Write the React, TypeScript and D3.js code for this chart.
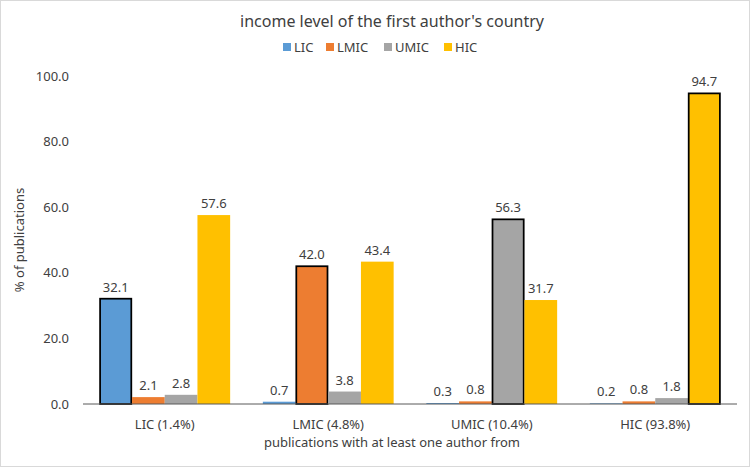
import React from "react";
import * as d3 from "d3";

const categories = ["LIC (1.4%)", "LMIC (4.8%)", "UMIC (10.4%)", "HIC (93.8%)"];
const seriesNames = ["LIC", "LMIC", "UMIC", "HIC"];
const licValues = [32.1, 0.7, 0.3, 0.2];
const lmicValues = [2.1, 42.0, 0.8, 0.8];
const umicValues = [2.8, 3.8, 56.3, 1.8];
const hicValues = [57.6, 43.4, 31.7, 94.7];
const yTicks = [0, 20, 40, 60, 80, 100];
const colors = ["#5B9BD5", "#ED7D31", "#A5A5A5", "#FFC000"];

const W = 750;
const H = 467;
const FONT = "'Noto Sans', 'Open Sans', sans-serif";
const TXT = "#404040";

export default function App() {
  const series = [licValues, lmicValues, umicValues, hicValues];
  const x0 = d3.scaleBand<string>().domain(categories).range([83, 737]).paddingInner(0).paddingOuter(0);
  const x1 = d3.scaleBand<string>().domain(seriesNames).range([0, x0.bandwidth()]).paddingInner(0).paddingOuter(0.5);
  const y = d3.scaleLinear().domain([0, 100]).range([404, 76]);

  const legendX = [283, 326, 384, 444];

  return (
    <svg width={W} height={H} style={{ position: "absolute", left: 0, top: 0, background: "#fff" }} fontFamily={FONT}>
      <rect x={0.5} y={0.5} width={W - 1} height={H - 1} fill="#fff" stroke="#D9D9D9" />
      <text x={392} y={27} textAnchor="middle" fontSize={16} fill={TXT}>
        income level of the first author's country
      </text>
      {seriesNames.map((s, i) => (
        <g key={s} transform={`translate(${legendX[i]},0)`}>
          <rect x={0} y={43} width={8} height={8} fill={colors[i]} />
          <text x={11} y={51.5} fontSize={13} fill={TXT}>{s}</text>
        </g>
      ))}
      {yTicks.map((t) => (
        <text key={t} x={69} y={y(t) + 4.5} textAnchor="end" fontSize={13} fill={TXT}>
          {t.toFixed(1)}
        </text>
      ))}
      <text transform={`translate(24,240) rotate(-90)`} textAnchor="middle" fontSize={13} fill={TXT}>
        % of publications
      </text>
      {categories.map((c, ci) => (
        <g key={c} transform={`translate(${x0(c)},0)`}>
          {seriesNames.map((s, si) => {
            const v = series[si][ci];
            const hl = si === ci;
            const bx = x1(s)!;
            const bw = x1.bandwidth();
            return (
              <g key={s}>
                <rect
                  x={bx + (hl ? 0.75 : 0)}
                  y={y(v)}
                  width={bw - (hl ? 1.5 : 0)}
                  height={y(0) - y(v)}
                  fill={colors[si]}
                  stroke={hl ? "#000" : "none"}
                  strokeWidth={hl ? 1.75 : 0}
                />
                <text x={bx + bw / 2} y={y(v) - 7} textAnchor="middle" fontSize={13} fill={TXT}>
                  {v.toFixed(1)}
                </text>
              </g>
            );
          })}
          <text x={x0.bandwidth() / 2} y={429} textAnchor="middle" fontSize={13} fill={TXT}>
            {c}
          </text>
        </g>
      ))}
      <line x1={83} x2={737} y1={y(0)} y2={y(0)} stroke="#595959" strokeWidth={1} />
      <text x={392} y={447} textAnchor="middle" fontSize={13} fill={TXT}>
        publications with at least one author from
      </text>
    </svg>
  );
}
